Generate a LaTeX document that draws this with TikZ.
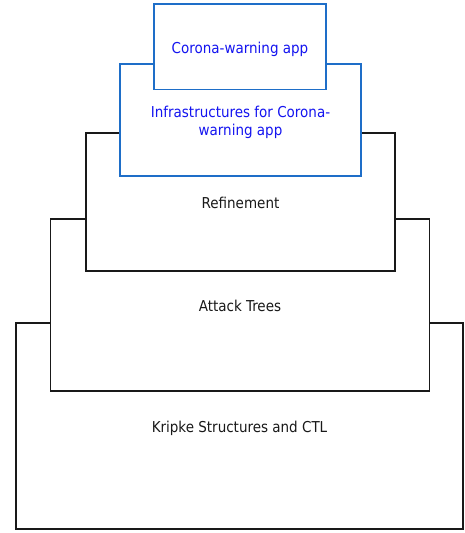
\documentclass[tikz,border=0pt]{standalone}
\usepackage{fontspec}
\setmainfont{DejaVu Sans Condensed}
\definecolor{layerblue}{RGB}{30,110,200}
\definecolor{layertext}{RGB}{20,20,240}
% label set slightly below the geometric centre of its box
\newcommand{\layerlabel}[1]{\raisebox{0pt}[\dimexpr\height+6pt\relax][\depth]{\begin{tabular}{@{}c@{}}#1\end{tabular}}}
\begin{document}
\begin{tikzpicture}[x=1pt,y=1pt,
  layer/.style={draw=black!90,fill=white,line width=1.2pt,rectangle,
    inner sep=0pt,font=\fontsize{15}{18}\selectfont,text=black!90},
  bluelayer/.style={layer,draw=layerblue,text=layertext}]
\useasboundingbox (0,0) rectangle (464,533);
% stacked layers, lowest first so each one covers the one below
\node[layer,minimum width=447pt,minimum height=206pt] (kripke) at (239.5,107) {\layerlabel{Kripke Structures and CTL}};
\node[layer,minimum width=379pt,minimum height=172pt] (attack) at (240,228) {\layerlabel{Attack Trees}};
\node[layer,minimum width=309pt,minimum height=138pt] (refine) at (240.5,331) {\layerlabel{Refinement}};
\node[bluelayer,minimum width=241pt,minimum height=112pt] (infra) at (240.5,413) {\layerlabel{Infrastructures for Corona-\\warning app}};
\node[bluelayer,minimum width=172pt,minimum height=85.5pt] (app) at (240,486.25) {\layerlabel{Corona-warning app}};
\end{tikzpicture}
\end{document}
